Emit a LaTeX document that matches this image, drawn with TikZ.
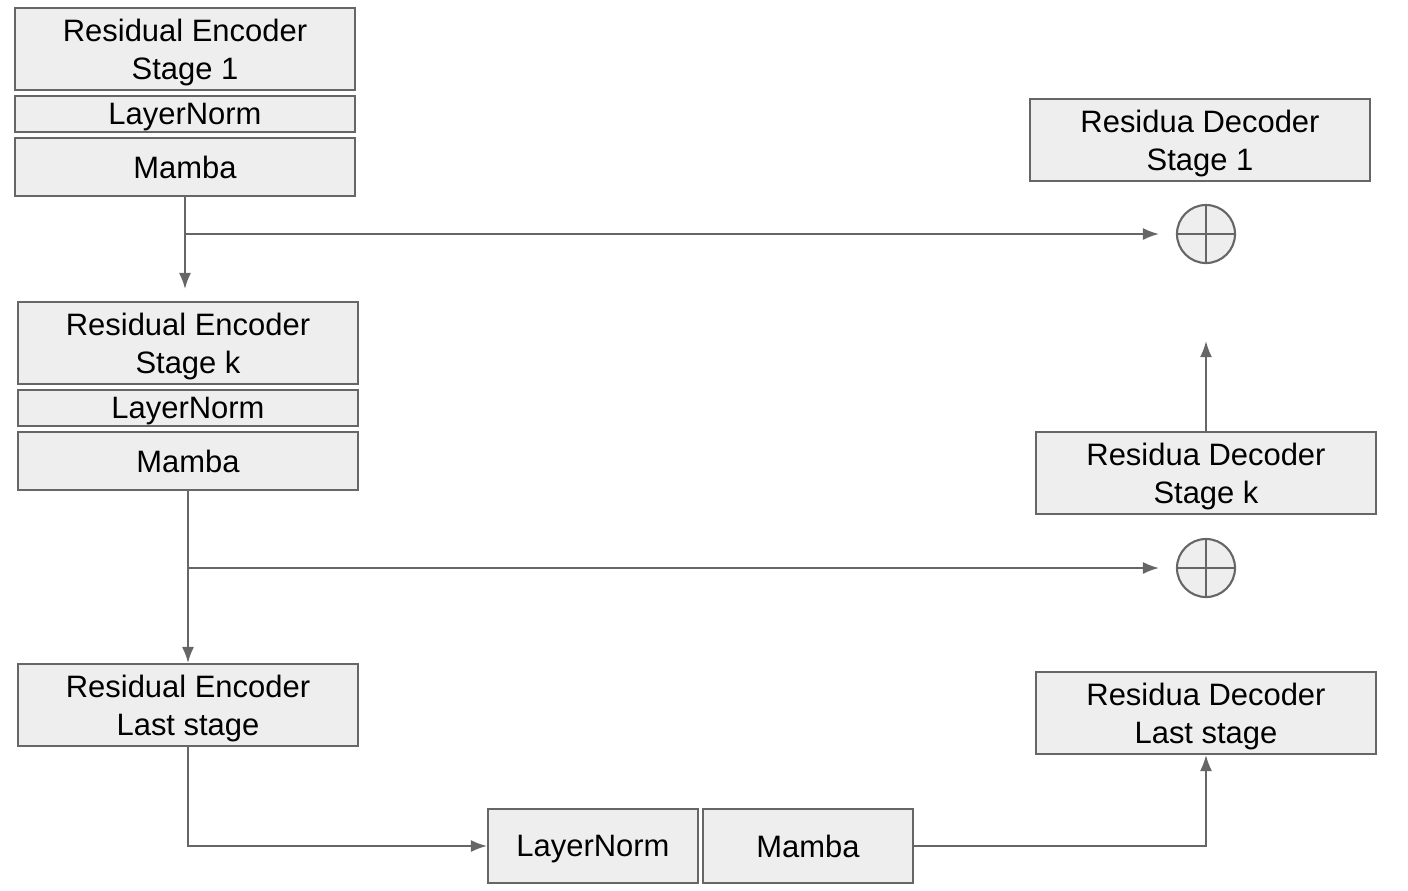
\documentclass[tikz,border=0pt]{standalone}
\usepackage{fontspec}
\setmainfont{Liberation Sans}
\usetikzlibrary{arrows.meta}
\definecolor{boxfill}{HTML}{EEEEEE}
\definecolor{linegray}{HTML}{666666}
\tikzset{
    block/.style={draw=linegray, line width=0.6pt, fill=boxfill, align=center, inner sep=0pt, text depth=0pt,
        minimum width=3.4cm, font=\fontsize{8.8}{10.8}\selectfont},
    stagebox/.style={block, minimum height=0.82cm},
    normbox/.style={block, minimum height=0.36cm},
    mambabox/.style={block, minimum height=0.58cm},
    sumnode/.style={circle, draw=linegray, line width=0.6pt, fill=boxfill, minimum size=0.58cm, inner sep=0pt,
        path picture={\draw[linegray, line width=0.6pt] (path picture bounding box.north) -- (path picture bounding box.south)
            (path picture bounding box.west) -- (path picture bounding box.east);}},
    flow/.style={draw=linegray, line width=0.45pt, -{Latex[length=1.6mm,width=1.2mm]}},
}
\begin{document}
\begin{tikzpicture}[x=0.01cm, y=-0.01cm]
    \useasboundingbox (0,0) rectangle (1408,890);
    % Encoder side
    \node[stagebox] (e1) at (185,49) {Residual Encoder\\Stage 1};
    \node[normbox] (n1) at (185,114) {LayerNorm};
    \node[mambabox] (m1) at (185,167) {Mamba};
    \node[stagebox] (ek) at (188,343) {Residual Encoder\\Stage k};
    \node[normbox] (nk) at (188,408) {LayerNorm};
    \node[mambabox] (mk) at (188,461) {Mamba};
    \node[stagebox] (el) at (188,705) {Residual Encoder\\Last stage};
    % Bottleneck
    \node[block, minimum width=2.1cm, minimum height=0.74cm] (nb) at (593,846) {LayerNorm};
    \node[block, minimum width=2.1cm, minimum height=0.74cm] (mb) at (808,846) {Mamba};
    % Decoder side
    \node[stagebox] (d1) at (1200,140) {Residua Decoder\\Stage 1};
    \node[stagebox] (dk) at (1206,473) {Residua Decoder\\Stage k};
    \node[stagebox] (dl) at (1206,713) {Residua Decoder\\Last stage};
    \foreach \name/\y in {o1/234, ok/568} {
        \node[sumnode] (\name) at (1206,\y) {};
    }
    % Skip connections
    \coordinate (s1) at (m1.south |- o1.west);
    \coordinate (sk) at (mk.south |- ok.west);
    \draw[flow, shorten >=0.17cm] (s1) -- (o1.west);
    \draw[flow, shorten >=0.17cm] (sk) -- (ok.west);
    % Main path
    \draw[flow, shorten >=0.12cm] (m1.south) -- (m1.south |- ek.north);
    \draw[flow] (mk.south) -- (el.north);
    \draw[flow] (el.south) |- (nb.west);
    \draw[flow] (mb.east) -| (dl.south);
    \draw[flow, shorten >=0.77cm] (dk.north) -- (o1.south);
\end{tikzpicture}
\end{document}
